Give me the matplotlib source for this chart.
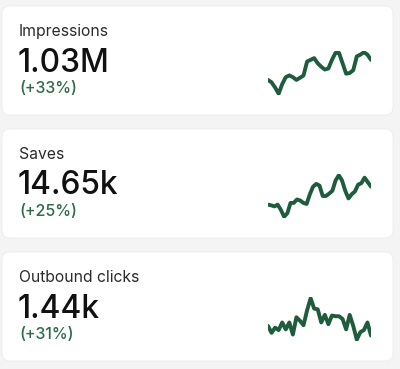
import matplotlib
matplotlib.use("Agg")
import matplotlib.pyplot as plt
from matplotlib.patches import FancyBboxPatch

# Card contents
titles = ["Impressions", "Saves", "Outbound clicks"]
totals = ["1.03M", "14.65k", "1.44k"]
changes = ["(+33%)", "(+25%)", "(+31%)"]

# Sparkline values (arbitrary units)
impressions = [42, 35, 20, 2, 30, 50, 55, 50, 42, 48, 55, 95, 100, 105, 90,
               80, 72, 75, 100, 120, 120, 90, 60, 62, 70, 110, 115, 122, 115, 100]
saves = [40, 38, 35, 40, 25, 5, 15, 45, 45, 55, 52, 45, 42, 70, 92, 100, 95,
         65, 65, 72, 80, 110, 125, 110, 80, 58, 70, 78, 98, 102, 118, 105, 92]
outbound = [50, 30, 45, 38, 60, 40, 60, 25, 75, 65, 52, 95, 130, 100, 98, 60,
            82, 55, 80, 78, 78, 70, 40, 82, 50, 10, 32, 38, 60, 22]
series = [impressions, saves, outbound]

W, H = 400, 369
BG = "#f4f4f4"
LINE = "#1f5c3b"
PCT = "#2e6b48"

plt.rcParams["font.family"] = ["Inter", "DejaVu Sans"]

fig = plt.figure(figsize=(W / 100, H / 100), dpi=100, facecolor=BG)
ax = fig.add_axes([0, 0, 1, 1])
ax.set_xlim(0, W)
ax.set_ylim(H, 0)
ax.axis("off")

card_tops = [6, 129, 252]
card_h = 109

for i, top in enumerate(card_tops):
    # white rounded card
    card = FancyBboxPatch((2, top), 391, card_h,
                          boxstyle="round,pad=0,rounding_size=8",
                          facecolor="white", edgecolor="#ececec", linewidth=0.6)
    ax.add_patch(card)

    ax.text(19, top + 30, titles[i], fontsize=11.3, color="#2b2b2b",
            va="baseline", ha="left")
    ax.text(18, top + 65.5, totals[i], fontsize=22.8, color="#111111",
            va="baseline", ha="left", fontweight="medium")
    ax.text(19, top + 87, changes[i], fontsize=11.5, color=PCT,
            va="baseline", ha="left", fontweight="medium")

    # sparkline in its own small axes
    x0, x1 = 268, 371
    y0, y1 = top + 45, top + 89
    sax = fig.add_axes([x0 / W, 1 - y1 / H, (x1 - x0) / W, (y1 - y0) / H])
    vals = series[i]
    sax.plot(range(len(vals)), vals, color=LINE, linewidth=2.8,
             solid_joinstyle="round", solid_capstyle="round")
    sax.set_xlim(0, len(vals) - 1)
    pad = (max(vals) - min(vals)) * 0.03
    sax.set_ylim(min(vals) - pad, max(vals) + pad)
    sax.axis("off")
    sax.patch.set_alpha(0)

fig.savefig("out.png", dpi=100, facecolor=BG)
